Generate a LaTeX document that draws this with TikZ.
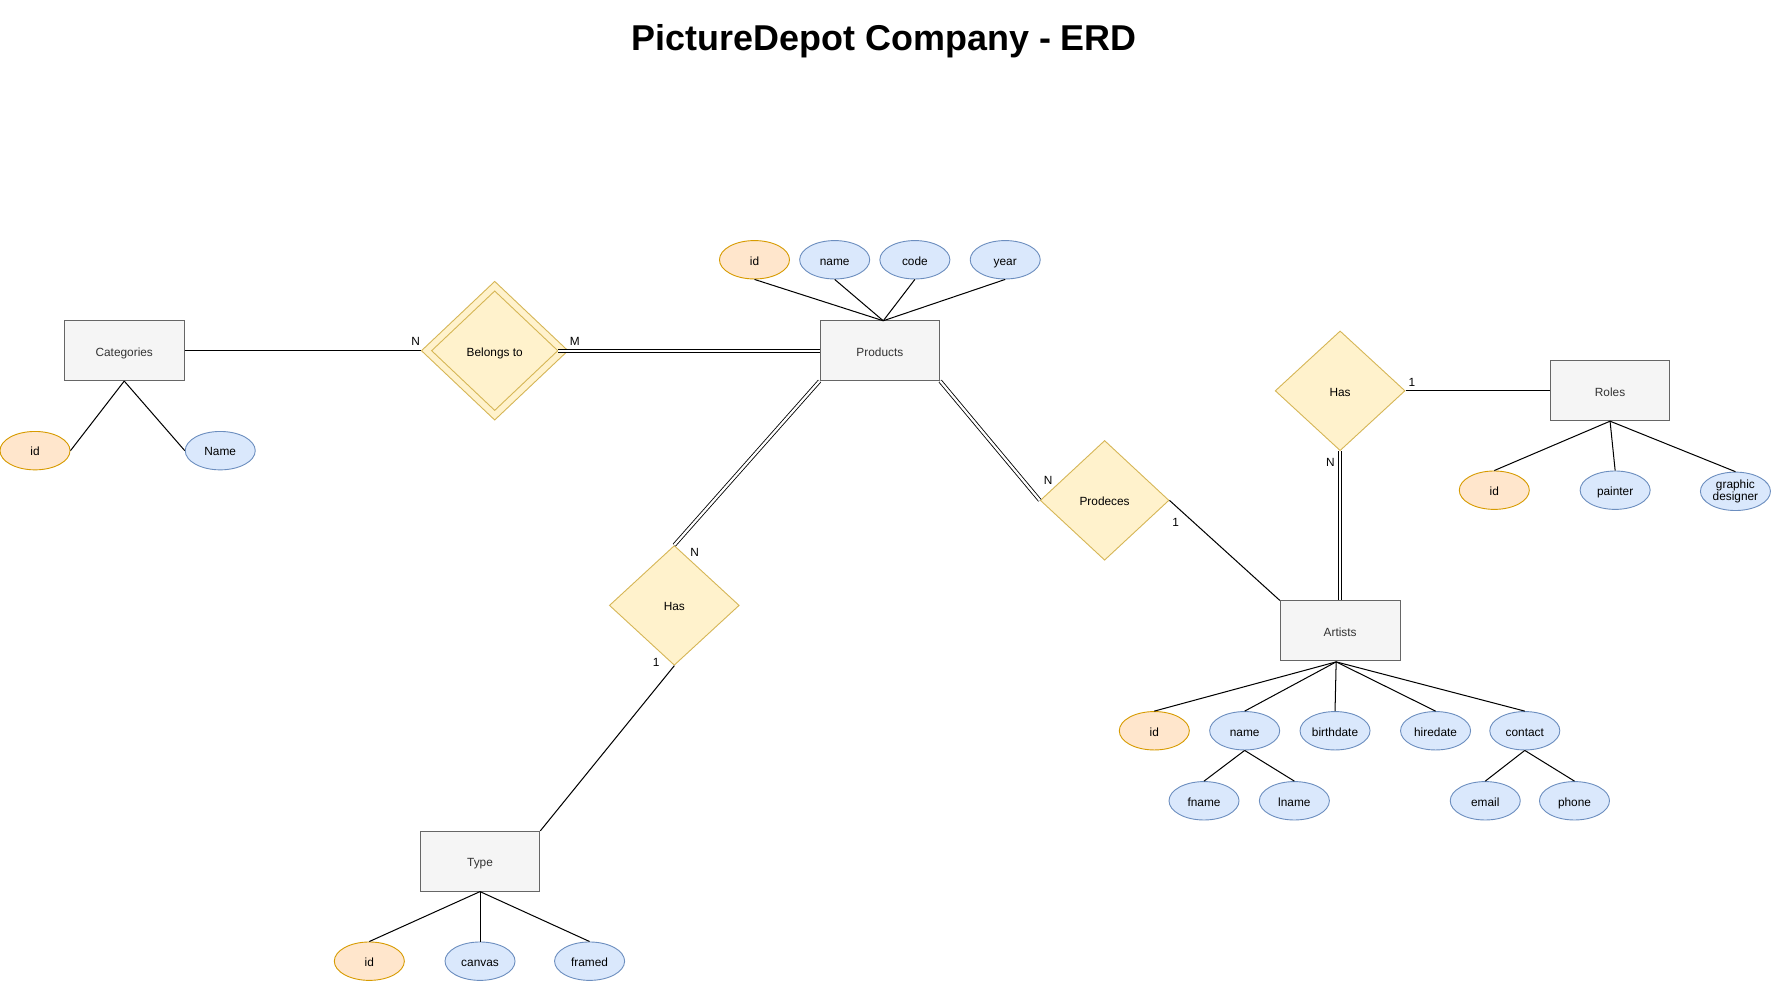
\documentclass[tikz,border=0pt]{standalone}
\usepackage{fontspec}
\setmainfont{Liberation Sans}
\usetikzlibrary{shapes.geometric}
\definecolor{entfill}{HTML}{F5F5F5}
\definecolor{entdraw}{HTML}{666666}
\definecolor{enttext}{HTML}{333333}
\definecolor{keyfill}{HTML}{FFE6CC}
\definecolor{keydraw}{HTML}{D79B00}
\definecolor{attfill}{HTML}{DAE8FC}
\definecolor{attdraw}{HTML}{6C8EBF}
\definecolor{relfill}{HTML}{FFF2CC}
\definecolor{reldraw}{HTML}{D6B656}
\tikzset{
  basefont/.style={font=\fontsize{10.5}{12.5}\selectfont},
  evenbox/.style={text height=11pt, text depth=1.6pt},
  entity/.style={basefont, evenbox, rectangle, draw=entdraw, fill=entfill, text=enttext, line width=0.8pt, minimum width=106pt, minimum height=53pt, inner sep=0pt},
  attkey/.style={basefont, evenbox, ellipse, draw=keydraw, fill=keyfill, line width=0.8pt, minimum width=62pt, minimum height=34pt, inner sep=0pt},
  attrbase/.style={basefont, ellipse, draw=attdraw, fill=attfill, line width=0.8pt, minimum width=62pt, minimum height=34pt, inner sep=0pt, align=center},
  attr/.style={attrbase, evenbox},
  rel/.style={basefont, evenbox, diamond, draw=reldraw, fill=relfill, line width=0.8pt, minimum width=115pt, minimum height=106pt, inner sep=0pt},
  card/.style={basefont, inner sep=0pt},
  conn/.style={draw=black, line width=0.9pt},
  dconn/.style={draw=black, double=white, double distance=2pt, line width=0.75pt}
}
\begin{document}
\begin{tikzpicture}[x=1pt,y=-1pt]
\useasboundingbox (0,0) rectangle (1568,869);
\fill[white] (0,0) rectangle (1568,869);

\node (title) at (783,36.5) {\fontsize{31.8}{38}\selectfont\bfseries PictureDepot Company - ERD};

% Categories
\node[entity] (cat) at (110,310.5) {Categories};
\node[attkey] (catid) at (31,399) {id};
\node[attr] (catname) at (195,399) {Name};
\draw[conn] (cat.south) -- (catid.east);
\draw[conn] (cat.south) -- (catname.west);

% Belongs to
\node[rel, minimum width=130pt, minimum height=123pt] (bel) at (438,310.5) {};
\node[rel, minimum width=112pt, minimum height=106pt] (belin) at (438,310.5) {Belongs to};

% Products
\node[entity] (prod) at (779,310.5) {Products};
\node[attkey] (prodid) at (668,230) {id};
\node[attr] (prodname) at (739,230) {name};
\node[attr] (prodcode) at (810,230) {code};
\node[attr] (prodyear) at (890,230) {year};
\coordinate (prodtop) at (782,284);
\draw[conn] (prodid.south) -- (prodtop);
\draw[conn] (prodname.south) -- (prodtop);
\draw[conn] (prodcode.south) -- (prodtop);
\draw[conn] (prodyear.south) -- (prodtop);

\draw[conn] (cat.east) -- (bel.west);
\node[card] (cN) at (368,302.5) {N};
\draw[dconn] (belin.east) -- (prod.west);
\node[card] (cM) at (509,302.5) {M};

% Has (type)
\node[rel] (hast) at (597,536) {Has};
\node[entity] (type) at (425,762.5) {Type};
\node[attkey] (typeid) at (327,851) {id};
\node[attr] (typecanvas) at (425,851) {canvas};
\node[attr] (typeframed) at (522,851) {framed};
\draw[dconn] (prod.south west) -- (hast.north);
\node[card] (htN) at (615,489.5) {N};
\draw[conn] (hast.south) -- (type.north east);
\node[card] (ht1) at (581,586.5) {1};
\draw[conn] (type.south) -- (typeid.north);
\draw[conn] (type.south) -- (typecanvas.north);
\draw[conn] (type.south) -- (typeframed.north);

% Prodeces
\node[rel, minimum width=114pt] (prodc) at (978,443) {Prodeces};
\node[entity] (art) at (1186.5,558.5) {Artists};
\draw[dconn] (prod.south east) -- (prodc.west);
\node[card] (pN) at (928,425.5) {N};
\draw[conn] (prodc.east) -- (art.north west);
\node[card] (p1) at (1041,462.5) {1};

% Has (roles)
\node[rel] (hasr) at (1186.5,346) {Has};
\node[entity] (roles) at (1425.5,346) {Roles};
\draw[dconn] (hasr.south) -- (art.north);
\node[card] (hrN) at (1178,409.5) {N};
\draw[conn] (hasr.east) -- (roles.west);
\node[card] (hr1) at (1250,338.5) {1};
\node[attkey] (roleid) at (1323,434) {id};
\node[attr] (rolepainter) at (1430,434) {painter};
\node[attrbase] (rolegraphic) at (1536.5,435) {graphic\\[-1.5pt]designer};
\draw[conn] (roles.south) -- (roleid.north);
\draw[conn] (roles.south) -- (rolepainter.north);
\draw[conn] (roles.south) -- (rolegraphic.north);

% Artists attributes
\node[attkey] (artid) at (1022,647) {id};
\node[attr] (artname) at (1102,647) {name};
\node[attr] (artbirth) at (1182,647) {birthdate};
\node[attr] (arthire) at (1271,647) {hiredate};
\node[attr] (artcontact) at (1350,647) {contact};
\coordinate (artbot) at (1183,586);
\draw[conn] (artbot) -- (artid.north);
\draw[conn] (artbot) -- (artname.north);
\draw[conn] (artbot) -- (artbirth.north);
\draw[conn] (artbot) -- (arthire.north);
\draw[conn] (artbot) -- (artcontact.north);
\node[attr] (fname) at (1066,709) {fname};
\node[attr] (lname) at (1146,709) {lname};
\node[attr] (email) at (1315,709) {email};
\node[attr] (phone) at (1394,709) {phone};
\draw[conn] (artname.south) -- (fname.north);
\draw[conn] (artname.south) -- (lname.north);
\draw[conn] (artcontact.south) -- (email.north);
\draw[conn] (artcontact.south) -- (phone.north);
\end{tikzpicture}
\end{document}
